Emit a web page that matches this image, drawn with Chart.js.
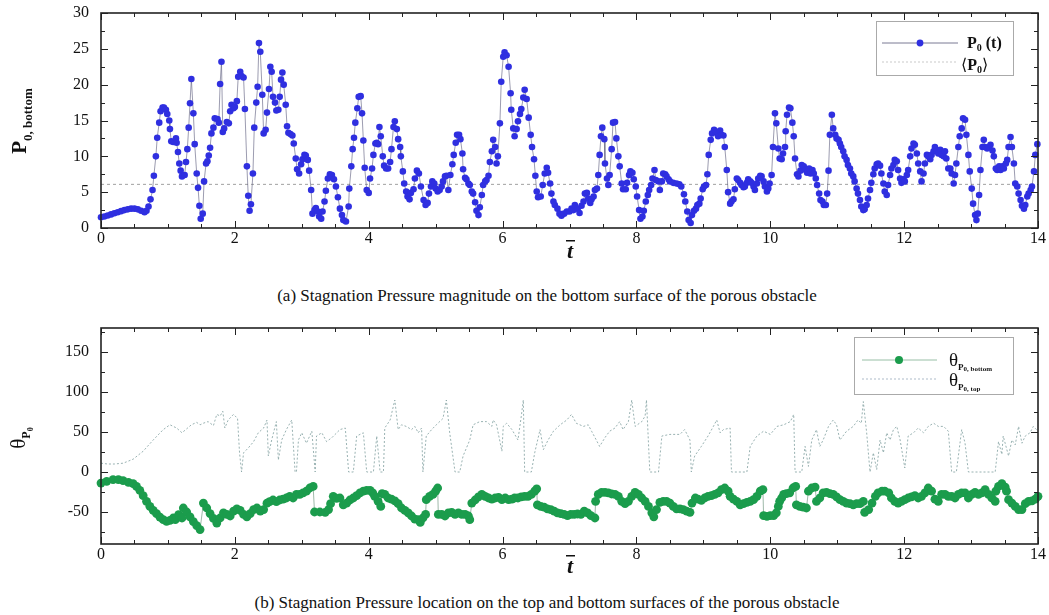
<!DOCTYPE html>
<html>
<head>
<meta charset="utf-8">
<script src="https://cdn.jsdelivr.net/npm/chart.js@4.4.1/dist/chart.umd.min.js"></script>
<style>
  body { margin: 0; background: #fff; width: 1049px; height: 615px; overflow: hidden; position: relative; font-family: "Liberation Serif", serif; }
  canvas { position: absolute; left: 0; }
  #topChart { top: 0; }
  #bottomChart { top: 310px; }
  .caption { position: absolute; left: 47px; width: 1000px; text-align: center; font-size: 17px; color: #111; white-space: nowrap; }
</style>
</head>
<body>
<canvas id="topChart" width="1049" height="265"></canvas>
<canvas id="bottomChart" width="1049" height="271"></canvas>
<div class="caption" style="top:286px;">(a) Stagnation Pressure magnitude on the bottom surface of the porous obstacle</div>
<div class="caption" style="top:593px;">(b) Stagnation Pressure location on the top and bottom surfaces of the porous obstacle</div>
<script>
// tick labels
const xTicks = [0, 2, 4, 6, 8, 10, 12, 14];
const pTicks = [0, 5, 10, 15, 20, 25, 30];
const thetaTicks = [-50, 0, 50, 100, 150];

// (a) P0 on the bottom surface
const pTime = [
  0, 0.05, 0.1, 0.15, 0.2, 0.25, 0.3, 0.35, 0.4, 0.45,
  0.5, 0.55, 0.6, 0.65, 0.68, 0.71, 0.74, 0.77, 0.79, 0.82,
  0.84, 0.87, 0.89, 0.92, 0.94, 0.97, 0.99, 1.02, 1.03, 1.05,
  1.08, 1.12, 1.13, 1.15, 1.17, 1.19, 1.21, 1.25, 1.27, 1.29,
  1.31, 1.33, 1.35, 1.38, 1.40, 1.43, 1.45, 1.47, 1.49, 1.52,
  1.54, 1.57, 1.59, 1.61, 1.63, 1.65, 1.68, 1.70, 1.74, 1.76,
  1.78, 1.80, 1.82, 1.84, 1.88, 1.91, 1.93, 1.95, 1.98, 2.0,
  2.03, 2.05, 2.08, 2.10, 2.13, 2.15, 2.18, 2.20, 2.22, 2.24,
  2.27, 2.29, 2.32, 2.34, 2.36, 2.38, 2.41, 2.43, 2.46, 2.48,
  2.51, 2.53, 2.55, 2.57, 2.60, 2.62, 2.65, 2.67, 2.69, 2.71,
  2.73, 2.76, 2.78, 2.80, 2.83, 2.86, 2.88, 2.91, 2.93, 2.96,
  2.99, 3.01, 3.04, 3.06, 3.09, 3.11, 3.14, 3.16, 3.19, 3.21,
  3.24, 3.26, 3.29, 3.31, 3.34, 3.36, 3.39, 3.42, 3.45, 3.48,
  3.51, 3.54, 3.57, 3.60, 3.62, 3.66, 3.70, 3.71, 3.74, 3.76,
  3.78, 3.80, 3.83, 3.85, 3.88, 3.90, 3.92, 3.94, 3.97, 4.0,
  4.02, 4.05, 4.07, 4.10, 4.12, 4.14, 4.16, 4.18, 4.21, 4.23,
  4.26, 4.29, 4.32, 4.34, 4.37, 4.39, 4.42, 4.44, 4.47, 4.48,
  4.51, 4.53, 4.56, 4.58, 4.61, 4.63, 4.67, 4.69, 4.72, 4.75,
  4.78, 4.82, 4.85, 4.88, 4.90, 4.93, 4.95, 4.98, 5.0, 5.03,
  5.06, 5.09, 5.11, 5.14, 5.16, 5.19, 5.22, 5.25, 5.27, 5.30,
  5.32, 5.35, 5.37, 5.40, 5.41, 5.44, 5.46, 5.49, 5.51, 5.54,
  5.56, 5.59, 5.61, 5.64, 5.66, 5.69, 5.71, 5.74, 5.76, 5.79,
  5.81, 5.84, 5.86, 5.89, 5.91, 5.93, 5.96, 5.98, 6.01, 6.03,
  6.06, 6.09, 6.12, 6.13, 6.16, 6.18, 6.21, 6.23, 6.26, 6.28,
  6.31, 6.33, 6.36, 6.39, 6.42, 6.44, 6.47, 6.49, 6.51, 6.53,
  6.57, 6.60, 6.63, 6.66, 6.68, 6.71, 6.73, 6.76, 6.78, 6.82,
  6.85, 6.88, 6.92, 6.96, 7.0, 7.03, 7.06, 7.08, 7.12, 7.15,
  7.18, 7.21, 7.23, 7.26, 7.28, 7.31, 7.33, 7.36, 7.38, 7.41,
  7.43, 7.45, 7.47, 7.49, 7.52, 7.53, 7.56, 7.58, 7.60, 7.63,
  7.65, 7.68, 7.70, 7.73, 7.75, 7.78, 7.80, 7.84, 7.86, 7.89,
  7.91, 7.94, 7.96, 7.99, 8.01, 8.04, 8.06, 8.09, 8.11, 8.14,
  8.17, 8.19, 8.22, 8.24, 8.27, 8.29, 8.33, 8.35, 8.38, 8.40,
  8.43, 8.45, 8.48, 8.50, 8.55, 8.60, 8.64, 8.67, 8.71, 8.73,
  8.76, 8.78, 8.81, 8.83, 8.86, 8.89, 8.91, 8.94, 8.96, 8.99,
  9.01, 9.04, 9.06, 9.08, 9.11, 9.13, 9.16, 9.19, 9.22, 9.25,
  9.27, 9.30, 9.32, 9.35, 9.37, 9.40, 9.42, 9.45, 9.47, 9.50,
  9.52, 9.55, 9.57, 9.60, 9.62, 9.65, 9.67, 9.70, 9.72, 9.75,
  9.77, 9.80, 9.82, 9.85, 9.87, 9.90, 9.92, 9.95, 9.97, 9.99,
  10.02, 10.04, 10.07, 10.09, 10.12, 10.14, 10.17, 10.19, 10.22, 10.23,
  10.25, 10.28, 10.30, 10.33, 10.35, 10.37, 10.40, 10.42, 10.45, 10.47,
  10.50, 10.53, 10.55, 10.58, 10.60, 10.63, 10.65, 10.68, 10.70, 10.73,
  10.75, 10.78, 10.80, 10.83, 10.85, 10.87, 10.89, 10.92, 10.94, 10.97,
  10.99, 11.02, 11.04, 11.06, 11.09, 11.11, 11.14, 11.16, 11.19, 11.21,
  11.24, 11.26, 11.29, 11.31, 11.34, 11.36, 11.39, 11.41, 11.44, 11.46,
  11.49, 11.51, 11.54, 11.56, 11.59, 11.61, 11.64, 11.66, 11.69, 11.71,
  11.74, 11.76, 11.79, 11.81, 11.84, 11.86, 11.89, 11.91, 11.94, 11.96,
  11.99, 12.01, 12.04, 12.06, 12.09, 12.11, 12.14, 12.16, 12.19, 12.21,
  12.24, 12.26, 12.29, 12.31, 12.34, 12.36, 12.39, 12.41, 12.44, 12.46,
  12.49, 12.51, 12.54, 12.56, 12.59, 12.61, 12.63, 12.66, 12.69, 12.71,
  12.74, 12.76, 12.78, 12.81, 12.83, 12.86, 12.88, 12.91, 12.93, 12.96,
  12.98, 13.01, 13.03, 13.06, 13.08, 13.10, 13.12, 13.14, 13.17, 13.19,
  13.21, 13.24, 13.27, 13.29, 13.32, 13.34, 13.37, 13.39, 13.42, 13.44,
  13.47, 13.49, 13.52, 13.54, 13.56, 13.59, 13.61, 13.64, 13.66, 13.69,
  13.71, 13.74, 13.76, 13.79, 13.81, 13.84, 13.86, 13.89, 13.91, 13.94,
  13.96, 13.99
];
const pBottom = [
  1.5, 1.6, 1.75, 1.9, 2.05, 2.2, 2.35, 2.5, 2.6, 2.7,
  2.7, 2.6, 2.4, 2.2, 2.4, 3.0, 4.0, 5.3, 7.3, 10,
  12.6, 14.7, 16.3, 16.8, 16.8, 16.5, 15.9, 15, 13.8, 12.1,
  12.0, 12.5, 11.9, 10.6, 9, 8.0, 7.2, 7.4, 9.2, 11,
  14, 17.4, 20.8, 16, 11.7, 7.6, 5.6, 3.1, 1.3, 2.0,
  6.5, 9, 9.3, 10.1, 11.2, 13.2, 14, 15.3, 15.2, 14.7,
  20.1, 23.2, 13.4, 13.9, 14.8, 14.6, 16.3, 17.2, 16.7, 16.9,
  17.7, 21.1, 21.8, 21.2, 21, 16.6, 8.6, 4.5, 2.4, 3.3,
  7.6, 14, 17.5, 19.7, 25.8, 24.6, 18.6, 13.2, 13.7, 16.1,
  19.4, 22.5, 21.8, 18.3, 17.5, 16.4, 16.5, 18.3, 20.7, 21.7,
  20, 17.2, 14.2, 13.3, 13.1, 12.9, 11.8, 9.7, 8.2, 7.6,
  8.9, 9.6, 10.2, 10.1, 9.5, 8.0, 5.3, 2.0, 2.5, 2.8,
  2.3, 1.6, 1.3, 2.3, 3.7, 5.2, 6.9, 7.5, 7.4, 6.8,
  5.8, 4.3, 2.7, 1.8, 1.1, 0.9, 3.0, 5.5, 8.6, 11,
  12.6, 14.7, 16.7, 18.3, 18.4, 16, 12.2, 8.4, 5.3, 4.9,
  6.9, 8.3, 10.2, 11.8, 11.9, 11.7, 14.1, 12.8, 10, 8.7,
  8.3, 8.3, 9.2, 11, 14.1, 14.9, 13.8, 12.4, 11.3, 10,
  7.9, 6.2, 5.1, 4.4, 4.0, 4.9, 5.4, 6.9, 8.0, 7.6,
  5.8, 3.9, 3.2, 3.5, 4.8, 5.8, 6.5, 6.2, 5.5, 5.1,
  5.3, 5.8, 6.5, 7.2, 7.3, 5.3, 7.4, 8.9, 10.2, 11.9,
  13.0, 13.0, 12.4, 10.4, 8.2, 7.0, 6.8, 6.2, 6.0, 5.1,
  4.8, 3.6, 2.4, 1.8, 2.9, 4.6, 6.0, 6.5, 6.7, 7.3,
  9.2, 10.7, 12.3, 11.3, 9.0, 10, 14.6, 20.4, 23.9, 24.5,
  24.1, 22.5, 18.8, 16.5, 13.9, 12.8, 13.8, 14.9, 15.9, 16.6,
  18.2, 19.3, 18.0, 15.4, 13.0, 11.3, 9.6, 7.3, 5.1, 4.3,
  4.4, 6.0, 7.6, 8.4, 7.7, 6.2, 4.8, 3.7, 3.2, 2.7,
  2.0, 1.7, 2.0, 2.3, 2.3, 2.7, 2.5, 3.2, 2.7, 2.1,
  3.1, 3.7, 4.8, 4.9, 4.1, 3.5, 4.0, 4.4, 5.3, 5.5,
  7.4, 10.2, 12.8, 14.0, 12.4, 9.0, 6.9, 6.0, 7.4, 11.0,
  14.7, 14.8, 12.5, 10, 8.6, 6.2, 5.4, 5.4, 6.3, 7.4,
  7.9, 7.7, 6.8, 5.8, 4.4, 2.5, 1.3, 1.6, 2.4, 3.7,
  4.6, 5.3, 6.0, 6.9, 8.1, 6.7, 6.5, 5.3, 6.5, 7.6,
  7.5, 7.2, 6.8, 6.5, 6.3, 6.2, 6.1, 5.8, 4.7, 3.7,
  2.3, 1.1, 0.7, 1.8, 2.4, 2.7, 3.2, 3.4, 4.1, 5.4,
  5.8, 6.0, 7.5, 10.2, 12.3, 13.2, 13.7, 13.4, 12.8, 13.6,
  13.0, 12.9, 11.3, 8.1, 5.0, 3.4, 3.7, 4.0, 5.4, 6.9,
  6.7, 6.3, 6.0, 5.7, 5.8, 6.3, 6.8, 6.5, 6.3, 5.8,
  5.3, 6.2, 6.9, 7.3, 7.2, 6.5, 5.8, 5.1, 5.5, 6.2,
  7.4, 11.3, 16.0, 14.6, 11.1, 9.7, 9.6, 10.4, 11.3, 13.5,
  15.8, 16.8, 16.7, 14.7, 12.8, 9.7, 7.5, 7.2, 8.0, 8.8,
  8.6, 8.1, 7.7, 8.3, 7.6, 8.1, 7.6, 6.9, 6.0, 4.8,
  3.9, 3.7, 3.2, 3.2, 4.8, 8.0, 13.0, 15.8, 13.9, 13.0,
  12.5, 12.3, 11.8, 11.3, 10.7, 10.0, 9.5, 8.8, 8.3, 7.6,
  7.2, 6.5, 5.5, 4.8, 3.9, 3.0, 2.5, 2.6, 3.2, 4.1,
  5.3, 6.3, 7.5, 8.3, 8.9, 9.0, 8.7, 7.6, 6.2, 5.1,
  4.6, 6.0, 7.4, 8.3, 8.8, 9.5, 9.3, 8.1, 6.9, 6.3,
  6.8, 6.5, 7.4, 8.1, 10.0, 11.1, 11.8, 11.6, 10.4, 9.0,
  7.9, 6.5, 7.6, 9.0, 10.2, 10.0, 9.6, 10.2, 10.7, 11.3,
  10.7, 10.4, 10.9, 10.2, 10.0, 10.7, 9.7, 8.3, 8.3, 7.6,
  6.2, 7.4, 9.0, 11.3, 12.8, 13.9, 15.3, 15.1, 13.0, 10.2,
  7.9, 5.5, 3.4, 1.8, 1.1, 2.0, 4.6, 8.1, 11.3, 12.3,
  11.3, 11.1, 11.3, 11.6, 10.8, 10.0, 8.3, 8.1, 8.6, 8.1,
  8.6, 8.3, 9.0, 9.5, 11.3, 12.7, 11.3, 9.0, 6.2, 5.8,
  4.8, 3.9, 3.1, 2.7, 3.2, 4.4, 4.8, 5.3, 5.8, 7.9,
  10.2, 11.7
];
const pMean = 6.1;

// (b) angular location of P0
const thetaTimeB = [
  0, 0.085, 0.18, 0.26, 0.33, 0.41, 0.48, 0.53, 0.58, 0.63,
  0.68, 0.73, 0.78, 0.83, 0.88, 0.93, 0.98, 1.03, 1.08, 1.11,
  1.13, 1.16, 1.18, 1.21, 1.23, 1.28, 1.33, 1.38, 1.43, 1.48,
  1.53, 1.58, 1.63, 1.68, 1.73, 1.78, 1.83, 1.88, 1.93, 1.98,
  2.03, 2.08, 2.13, 2.18, 2.23, 2.28, 2.33, 2.38, 2.43, 2.48,
  2.52, 2.57, 2.62, 2.67, 2.72, 2.77, 2.82, 2.87, 2.92, 2.97,
  3.02, 3.07, 3.12, 3.17, 3.19, 3.27, 3.35, 3.40, 3.43, 3.47,
  3.52, 3.57, 3.62, 3.67, 3.72, 3.77, 3.82, 3.87, 3.92, 3.97,
  4.02, 4.06, 4.09, 4.14, 4.18, 4.20, 4.24, 4.29, 4.34, 4.39,
  4.44, 4.49, 4.54, 4.59, 4.64, 4.69, 4.74, 4.77, 4.81, 4.85,
  4.86, 4.91, 4.96, 5.0, 5.03, 5.04, 5.09, 5.14, 5.19, 5.24,
  5.29, 5.34, 5.39, 5.44, 5.49, 5.51, 5.54, 5.59, 5.64, 5.69,
  5.74, 5.79, 5.84, 5.89, 5.94, 5.99, 6.04, 6.09, 6.14, 6.18,
  6.23, 6.28, 6.33, 6.38, 6.43, 6.48, 6.51, 6.52, 6.57, 6.62,
  6.67, 6.72, 6.77, 6.82, 6.87, 6.92, 6.97, 7.02, 7.07, 7.12,
  7.17, 7.22, 7.27, 7.32, 7.38, 7.39, 7.43, 7.48, 7.53, 7.58,
  7.63, 7.68, 7.73, 7.78, 7.83, 7.88, 7.93, 7.98, 8.03, 8.08,
  8.13, 8.18, 8.23, 8.26, 8.30, 8.35, 8.40, 8.45, 8.50, 8.55,
  8.60, 8.65, 8.70, 8.75, 8.80, 8.83, 8.88, 8.92, 8.97, 9.02,
  9.07, 9.12, 9.17, 9.22, 9.27, 9.32, 9.37, 9.40, 9.45, 9.50,
  9.55, 9.60, 9.65, 9.70, 9.75, 9.80, 9.85, 9.89, 9.90, 9.95,
  10.0, 10.05, 10.09, 10.12, 10.14, 10.17, 10.20, 10.24, 10.29, 10.34,
  10.38, 10.39, 10.44, 10.49, 10.54, 10.57, 10.62, 10.67, 10.69, 10.74,
  10.79, 10.84, 10.89, 10.94, 10.99, 11.04, 11.09, 11.14, 11.19, 11.24,
  11.29, 11.34, 11.39, 11.41, 11.47, 11.52, 11.57, 11.61, 11.67, 11.71,
  11.77, 11.81, 11.86, 11.91, 11.96, 12.01, 12.06, 12.11, 12.16, 12.21,
  12.26, 12.31, 12.36, 12.41, 12.46, 12.51, 12.56, 12.61, 12.66, 12.71,
  12.76, 12.81, 12.86, 12.91, 12.96, 13.01, 13.06, 13.11, 13.16, 13.21,
  13.26, 13.31, 13.36, 13.37, 13.41, 13.46, 13.51, 13.53, 13.56, 13.61,
  13.66, 13.71, 13.76, 13.81, 13.86, 13.91, 13.96, 14.0
];
const thetaBottom = [
  -13.8, -11.7, -9.6, -9.6, -10.8, -12.9, -14.6, -17.9, -22.9, -29.6,
  -36.7, -42.9, -47.9, -52.1, -56.3, -59.6, -61.7, -60.4, -57.5, -59.6,
  -57.5, -53.3, -55.4, -57.5, -45, -50, -56, -62, -67, -72,
  -38.8, -45, -52, -58, -63.8, -57.5, -51, -53, -55, -49,
  -46, -48, -53, -56, -52, -47, -45, -49, -47, -39,
  -37, -35, -37, -35, -34, -32.5, -30.4, -32.5, -28, -28,
  -26, -24, -20, -18, -50, -50, -50.4, -47, -39.6, -30.4,
  -33, -32.5, -41, -39, -35, -32.5, -29.6, -26, -24, -23,
  -23, -26, -30.4, -36.7, -43, -27, -28, -32.5, -34, -36,
  -39.6, -45, -48, -51, -55, -59, -59.6, -63, -57.5, -53,
  -34.6, -30.4, -28, -24, -20, -53, -53, -55, -51, -50.4,
  -53, -51, -53, -53, -55, -59.6, -38.8, -35, -31, -28,
  -30.4, -32.5, -34, -32.5, -31.7, -34.6, -32.5, -34.6, -34, -32.5,
  -32.5, -31, -30.4, -30.4, -28, -24, -21, -41, -43, -44,
  -46, -47, -49, -51, -52, -53, -54.6, -53, -53, -52.5,
  -53, -49, -51, -54.6, -57.5, -36.7, -28, -25.4, -25.4, -26,
  -27.5, -28, -30.4, -36.7, -39.6, -36.7, -30.4, -25.4, -28, -32.5,
  -36.7, -43, -51, -56, -47, -38, -36.7, -36.7, -39, -43,
  -46, -46, -47, -49, -50.4, -38.8, -32.5, -34, -35.4, -32.5,
  -30.4, -29.6, -28, -26, -22, -20, -24, -30.4, -34, -36.7,
  -41, -39.6, -38, -36.7, -34.6, -30.4, -24, -22, -54.6, -55.4,
  -54.6, -54.6, -51, -43, -36.7, -32.5, -28, -27, -26, -20,
  -18, -41, -43, -44, -45, -24, -20, -18.8, -36.7, -32.5,
  -26, -25.4, -27, -28, -31, -34.6, -36.7, -38.8, -39.6, -41,
  -39.6, -39.6, -36.7, -50.4, -47, -38.8, -30.4, -26, -24, -24,
  -26, -32.5, -36.7, -38.8, -36.7, -34.6, -32.5, -31, -29.6, -32.5,
  -30.4, -26, -20, -24, -34, -36.7, -28, -28, -30.4, -30.4,
  -32.5, -28, -26, -26, -32.5, -28, -25.4, -28, -26, -22,
  -28, -32.5, -36.7, -24, -18, -14.6, -18.8, -24, -34.6, -38.8,
  -43, -47, -47, -39.6, -36.7, -36, -34, -30.4
];
const thetaTimeT = [
  0, 0.1, 0.2, 0.33, 0.48, 0.63, 0.78, 0.93, 1.03, 1.13,
  1.21, 1.28, 1.35, 1.43, 1.48, 1.53, 1.60, 1.68, 1.73, 1.78,
  1.82, 1.85, 1.90, 1.98, 2.04, 2.07, 2.10, 2.13, 2.20, 2.28,
  2.35, 2.43, 2.48, 2.50, 2.55, 2.62, 2.65, 2.70, 2.77, 2.85,
  2.90, 2.92, 2.95, 3.00, 3.07, 3.15, 3.20, 3.22, 3.30, 3.37,
  3.45, 3.57, 3.65, 3.70, 3.77, 3.82, 3.92, 3.97, 4.07, 4.12,
  4.17, 4.22, 4.24, 4.32, 4.39, 4.44, 4.49, 4.56, 4.64, 4.69,
  4.74, 4.79, 4.81, 4.86, 4.94, 5.01, 5.11, 5.16, 5.21, 5.29,
  5.36, 5.41, 5.51, 5.56, 5.66, 5.76, 5.84, 5.86, 5.91, 5.99,
  6.01, 6.06, 6.14, 6.23, 6.28, 6.31, 6.33, 6.43, 6.48, 6.56,
  6.61, 6.68, 6.76, 6.86, 6.96, 7.03, 7.10, 7.21, 7.28, 7.33,
  7.40, 7.45, 7.53, 7.60, 7.68, 7.75, 7.80, 7.88, 7.93, 7.98,
  8.08, 8.13, 8.15, 8.20, 8.33, 8.38, 8.50, 8.65, 8.72, 8.80,
  8.82, 8.87, 8.97, 9.07, 9.15, 9.20, 9.25, 9.30, 9.40, 9.42,
  9.65, 9.70, 9.80, 9.90, 10.0, 10.10, 10.20, 10.30, 10.35, 10.37,
  10.47, 10.52, 10.57, 10.62, 10.69, 10.74, 10.79, 10.87, 10.94, 10.99,
  11.04, 11.14, 11.24, 11.31, 11.36, 11.39, 11.44, 11.49, 11.54, 11.59,
  11.64, 11.69, 11.74, 11.79, 11.84, 11.89, 11.94, 12.01, 12.06, 12.14,
  12.21, 12.29, 12.36, 12.44, 12.51, 12.59, 12.66, 12.71, 12.78, 12.86,
  12.91, 12.96, 13.36, 13.41, 13.46, 13.48, 13.56, 13.61, 13.66, 13.71,
  13.76, 13.81, 13.88, 13.93, 14.0
];
const thetaTop = [
  11, 10, 10, 11, 16, 26, 40, 53, 59, 55,
  49, 54, 59, 62, 59, 61, 63, 58, 72, 70,
  76, 55, 65, 72, 67, 24, 0, 24, 30, 38,
  49, 55, 65, 20, 40, 63, 15, 40, 53, 65,
  0, 0, 40, 49, 36, 51, 0, 45, 49, 38,
  43, 53, 55, 0, 0, 45, 49, 0, 0, 45,
  0, 0, 55, 65, 90, 53, 59, 57, 53, 57,
  49, 55, 0, 45, 53, 59, 67, 90, 49, 0,
  0, 20, 40, 59, 63, 63, 57, 65, 59, 26,
  57, 61, 53, 40, 70, 90, 0, 0, 24, 53,
  28, 40, 51, 59, 65, 72, 61, 57, 59, 51,
  40, 32, 43, 51, 55, 63, 53, 63, 90, 57,
  63, 70, 90, 0, 0, 45, 47, 47, 53, 40,
  0, 20, 32, 45, 57, 65, 49, 53, 55, 0,
  0, 32, 45, 51, 47, 57, 59, 63, 72, 0,
  0, 32, 7, 40, 53, 32, 40, 57, 65, 59,
  40, 51, 57, 65, 61, 88, 49, 0, 24, 3,
  40, 24, 49, 40, 53, 57, 40, 5, 45, 49,
  55, 49, 57, 61, 57, 57, 51, 0, 0, 53,
  36, 0, 0, 38, 22, 45, 20, 40, 34, 57,
  36, 45, 49, 57, 51
];

const serif = '"Liberation Serif", "Times New Roman", serif';
Chart.defaults.font.family = serif;

function toPoints(xs, ys) {
  return xs.map((t, i) => ({ x: t, y: ys[i] }));
}

// draws text pieces one after another (for sub/superscripts)
function richText(ctx, x, y, parts) {
  let cx = x;
  parts.forEach(([text, font, dy]) => {
    ctx.font = font;
    ctx.fillText(text, cx, y + (dy || 0));
    cx += ctx.measureText(text).width;
  });
  return cx;
}
function richWidth(ctx, parts) {
  let w = 0;
  parts.forEach(([text, font]) => { ctx.font = font; w += ctx.measureText(text).width; });
  return w;
}

function tickRun(min, max, step) {
  const out = [];
  for (let v = min; v <= max + 1e-9; v += step) out.push(v);
  return out;
}

// tecplot style frame with inward ticks
const framePlugin = {
  id: 'frame',
  afterDraw(chart, args, opts) {
    const { ctx, chartArea: a, scales: { x, y } } = chart;
    ctx.save();
    ctx.strokeStyle = '#222';
    ctx.lineWidth = 1;
    ctx.beginPath();
    const draw = (scale, vals, len) => vals.forEach(v => {
      const p = Math.round(scale.getPixelForValue(v)) + 0.5;
      if (scale.isHorizontal()) {
        ctx.moveTo(p, a.bottom); ctx.lineTo(p, a.bottom - len);
        ctx.moveTo(p, a.top); ctx.lineTo(p, a.top + len);
      } else {
        ctx.moveTo(a.left, p); ctx.lineTo(a.left + len, p);
        ctx.moveTo(a.right, p); ctx.lineTo(a.right - len, p);
      }
    });
    draw(x, xTicks, 7);
    draw(x, tickRun(x.min, x.max, 0.5), 4);
    draw(y, opts.yMajor, 7);
    draw(y, opts.yMinor, 4);
    ctx.stroke();
    ctx.lineWidth = 1.6;
    ctx.strokeRect(a.left, a.top, a.right - a.left, a.bottom - a.top);
    ctx.restore();
    if (opts.decorate) { ctx.save(); opts.decorate(ctx, chart); ctx.restore(); }
  }
};

// label offset comes from an invisible tick mark so it does not pad the chart area
function axisOpts(min, max, ticks, isX) {
  return {
    type: 'linear', min, max,
    grid: { display: true, drawOnChartArea: false, drawTicks: true, tickLength: isX ? 1 : 12, color: 'rgba(0,0,0,0)' },
    border: { display: false },
    afterBuildTicks: s => { s.ticks = ticks.map(v => ({ value: v })); },
    afterFit: s => { if (isX) s.height = 37; else s.width = 60; },
    ticks: { color: '#111', font: { size: 16 }, padding: 0, maxRotation: 0, autoSkip: false }
  };
}

function drawTbar(ctx, cx, base) {
  ctx.fillStyle = '#111';
  ctx.font = 'bold italic 22px ' + serif;
  ctx.textAlign = 'center';
  ctx.fillText('t', cx, base);
  ctx.fillRect(cx - 4, base - 18, 9, 1.5);
}

const blue = '#2f2fe0';
const green = '#1b9c4c';

new Chart(document.getElementById('topChart'), {
  type: 'line',
  data: {
    datasets: [{
      data: toPoints(pTime, pBottom),
      borderColor: '#59597a', borderWidth: 0.6,
      pointRadius: 3.3, pointBackgroundColor: blue, pointBorderWidth: 0,
      tension: 0, clip: 6
    }, {
      data: [{ x: 0, y: pMean }, { x: 14, y: pMean }],
      borderColor: '#8a8a8a', borderWidth: 0.8, borderDash: [3, 3],
      pointRadius: 0
    }]
  },
  options: {
    responsive: false, animation: false, events: [], devicePixelRatio: 1,
    layout: { padding: { left: 41, right: 11, top: 13, bottom: 0 } },
    plugins: {
      legend: { display: false }, tooltip: { enabled: false },
      frame: {
        yMajor: pTicks, yMinor: tickRun(0, 30, 2.5),
        decorate(ctx) {
          ctx.fillStyle = '#111';
          // y title
          ctx.save();
          ctx.translate(26, 121);
          ctx.rotate(-Math.PI / 2);
          const parts = [['P', 'bold 21px ' + serif, 0], ['0, bottom', 'bold 13px ' + serif, 6]];
          richText(ctx, -richWidth(ctx, parts) / 2, 0, parts);
          ctx.restore();
          drawTbar(ctx, 570, 258);
          // legend
          ctx.textAlign = 'left';
          ctx.strokeStyle = '#aaa'; ctx.lineWidth = 1;
          ctx.strokeRect(876.5, 21.5, 137, 54);
          ctx.strokeStyle = '#59597a'; ctx.lineWidth = 0.8;
          ctx.beginPath(); ctx.moveTo(882, 43); ctx.lineTo(958, 43); ctx.stroke();
          ctx.fillStyle = blue;
          ctx.beginPath(); ctx.arc(920, 43, 3.4, 0, Math.PI * 2); ctx.fill();
          ctx.strokeStyle = '#bbb'; ctx.setLineDash([2, 2]);
          ctx.beginPath(); ctx.moveTo(882, 62); ctx.lineTo(958, 62); ctx.stroke();
          ctx.setLineDash([]);
          ctx.fillStyle = '#111';
          richText(ctx, 967, 48, [['P', 'bold 16px ' + serif, 0], ['0', 'bold 10px ' + serif, 3], [' (t)', 'bold 16px ' + serif, 0]]);
          richText(ctx, 961, 70, [['\u27E8', '16px "DejaVu Serif", serif', 0], ['P', 'bold 16px ' + serif, 0], ['0', 'bold 10px ' + serif, 3], ['\u27E9', '16px "DejaVu Serif", serif', 0]]);
        }
      }
    },
    scales: {
      x: axisOpts(0, 14, xTicks, true),
      y: axisOpts(0, 30, pTicks, false)
    }
  },
  plugins: [framePlugin]
});

new Chart(document.getElementById('bottomChart'), {
  type: 'line',
  data: {
    datasets: [{
      data: toPoints(thetaTimeB, thetaBottom),
      borderColor: '#5d8a6e', borderWidth: 0.6,
      pointRadius: 4.4, pointBackgroundColor: green, pointBorderWidth: 0,
      tension: 0, clip: 6
    }, {
      data: toPoints(thetaTimeT, thetaTop),
      borderColor: '#7f9e9e', borderWidth: 0.8, borderDash: [2, 2],
      pointRadius: 0, tension: 0
    }]
  },
  options: {
    responsive: false, animation: false, events: [], devicePixelRatio: 1,
    layout: { padding: { left: 41, right: 11, top: 18, bottom: 0 } },
    plugins: {
      legend: { display: false }, tooltip: { enabled: false },
      frame: {
        yMajor: thetaTicks, yMinor: tickRun(-75, 175, 25),
        decorate(ctx) {
          ctx.fillStyle = '#111';
          ctx.save();
          ctx.translate(25, 128);
          ctx.rotate(-Math.PI / 2);
          const parts = [['\u03B8', '21px ' + serif, 0], ['P', 'bold 12px ' + serif, 5], ['0', 'bold 8px ' + serif, 8]];
          richText(ctx, -richWidth(ctx, parts) / 2, 0, parts);
          ctx.restore();
          drawTbar(ctx, 570, 263);
          // legend
          ctx.textAlign = 'left';
          ctx.strokeStyle = '#aaa'; ctx.lineWidth = 1;
          ctx.strokeRect(854.5, 27.5, 159, 57);
          ctx.strokeStyle = '#7fae90'; ctx.lineWidth = 0.8;
          ctx.beginPath(); ctx.moveTo(862, 50); ctx.lineTo(937, 50); ctx.stroke();
          ctx.fillStyle = green;
          ctx.beginPath(); ctx.arc(899, 50, 4, 0, Math.PI * 2); ctx.fill();
          ctx.strokeStyle = '#9ab'; ctx.setLineDash([2, 2]);
          ctx.beginPath(); ctx.moveTo(862, 69); ctx.lineTo(937, 69); ctx.stroke();
          ctx.setLineDash([]);
          ctx.fillStyle = '#111';
          richText(ctx, 949, 56, [['\u03B8', '19px ' + serif, 0], ['P', 'bold 9px ' + serif, 4], ['0, bottom', 'bold 7px ' + serif, 5]]);
          richText(ctx, 949, 76, [['\u03B8', '19px ' + serif, 0], ['P', 'bold 9px ' + serif, 4], ['0, top', 'bold 7px ' + serif, 5]]);
        }
      }
    },
    scales: {
      x: axisOpts(0, 14, xTicks, true),
      y: axisOpts(-90, 180, thetaTicks, false)
    }
  },
  plugins: [framePlugin]
});
</script>
</body>
</html>
